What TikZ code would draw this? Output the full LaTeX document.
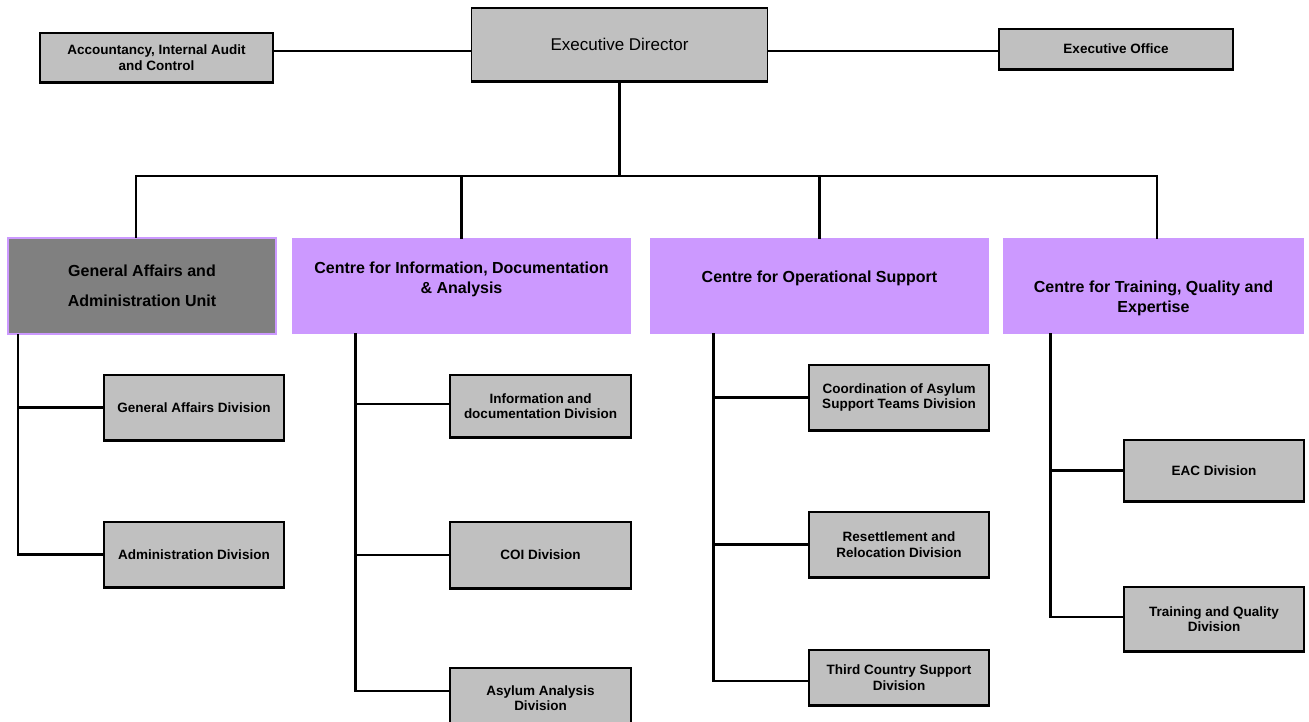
\documentclass[tikz,border=0pt]{standalone}
\usepackage{fontspec}
\setmainfont{Liberation Sans}
\definecolor{boxgrey}{HTML}{C0C0C0}
\definecolor{unitgrey}{HTML}{808080}
\definecolor{centrepurple}{HTML}{CC99FF}
\begin{document}
\begin{tikzpicture}[x=1pt,y=-1pt,
  office/.style={draw=black,line width=1.3,fill=boxgrey,inner sep=0,align=center,
    font=\bfseries\fontsize{13.5}{15.5}\selectfont},
  centre/.style={fill=centrepurple,inner sep=0,minimum height=96},
  centretext/.style={align=center,inner sep=0,font=\bfseries\fontsize{16}{20}\selectfont},
  conn/.style={line width=2.8,line cap=rect}]
\clip (0,0) rectangle (1309,722);
\fill[white] (0,0) rectangle (1309,722);
\node[office,minimum width=296,minimum height=73,font=\fontsize{17}{20}\selectfont] (ed) at (619.5,44.5) {Executive Director};
\node[office,minimum width=233,minimum height=49] (acc) at (156.5,57.5) {Accountancy, Internal Audit\\and Control};
\node[office,minimum width=234,minimum height=40] (eo) at (1116,49) {Executive Office};
\node[centre,fill=unitgrey,draw=centrepurple,line width=2,minimum width=268] (ga) at (142,286) {};
\node[centretext,font=\bfseries\fontsize{16}{30}\selectfont] (gat) at (142,286) {General Affairs and\\Administration Unit};
\node[centre,minimum width=339] (cida) at (461.5,286) {};
\node[centretext] (cidat) at (461.5,279) {Centre for Information, Documentation\\\& Analysis};
\node[centre,minimum width=339] (cos) at (819.5,286) {};
\node[centretext] (cost) at (819.5,278) {Centre for Operational Support};
\node[centre,minimum width=301] (ctqe) at (1153.5,286) {};
\node[centretext] (ctqet) at (1153.5,298) {Centre for Training, Quality and\\Expertise};
\node[office,minimum width=180,minimum height=65] (gad) at (194,407.5) {General Affairs Division};
\node[office,minimum width=180,minimum height=65] (adm) at (194,554.5) {Administration Division};
\node[office,minimum width=181,minimum height=62] (info) at (540.5,406) {Information and\\documentation Division};
\node[office,minimum width=181,minimum height=66] (coi) at (540.5,555) {COI Division};
\node[office,minimum width=181,minimum height=60] (aad) at (540.5,698) {Asylum  Analysis\\Division};
\node[office,minimum width=180,minimum height=65] (coord) at (899,397.5) {Coordination of Asylum\\Support Teams Division};
\node[office,minimum width=180,minimum height=65] (reset) at (899,544.5) {Resettlement and\\Relocation Division};
\node[office,minimum width=180,minimum height=55] (third) at (899,677.5) {Third Country Support\\Division};
\node[office,minimum width=180,minimum height=61] (eac) at (1214,470.5) {EAC Division};
\node[office,minimum width=180,minimum height=64] (train) at (1214,619) {Training and Quality\\Division};
\foreach \n in {ed,acc,eo,gad,adm,info,coi,aad,coord,reset,third,eac,train}
  \draw[line width=2.6] (\n.south west) -- (\n.south east);
\coordinate (topline) at (620,51);
\coordinate (bus) at (ed.south |- 0,176);
\draw[line width=2.2] (acc.east |- topline) -- (ed.west |- topline);
\draw[line width=2.2] (ed.east |- topline) -- (eo.west |- topline);
\draw[conn] (ed.south) -- (bus);
\draw[conn] ([xshift=-6]ga.north) |- (bus) -| ([xshift=3.5]ctqe.north);
\draw[conn] (cida.north) -- (cida.north |- bus);
\draw[conn] (cos.north) -- (cos.north |- bus);
\draw[conn] ([xshift=11]ga.south west) |- (gad.west);
\draw[conn] ([xshift=11]ga.south west) |- (adm.west);
\draw[conn] ([xshift=64]cida.south west) |- ([yshift=2]info.west);
\draw[conn] ([xshift=64]cida.south west) |- (coi.west);
\draw[conn] ([xshift=64]cida.south west) |- ([yshift=7]aad.west);
\draw[conn] ([xshift=64]cos.south west) |- (coord.west);
\draw[conn] ([xshift=64]cos.south west) |- (reset.west);
\draw[conn] ([xshift=64]cos.south west) |- ([yshift=-3.5]third.west);
\draw[conn] ([xshift=48]ctqe.south west) |- (eac.west);
\draw[conn] ([xshift=48]ctqe.south west) |- ([yshift=2]train.west);
\end{tikzpicture}
\end{document}
